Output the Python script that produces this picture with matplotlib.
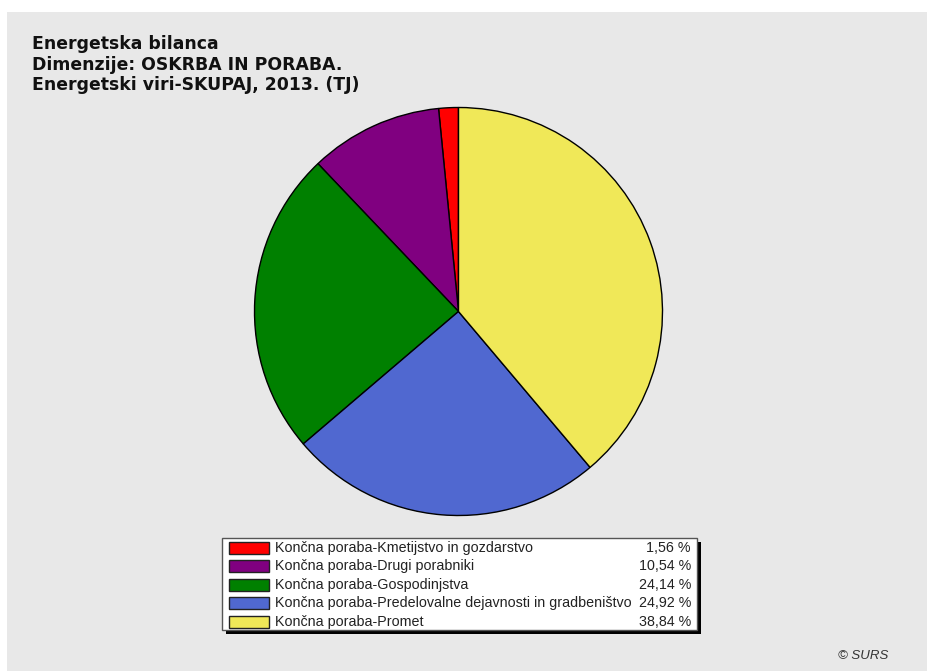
import matplotlib
matplotlib.use("Agg")
import matplotlib.pyplot as plt
from matplotlib.patches import Rectangle

categories = [
    "Končna poraba-Kmetijstvo in gozdarstvo",
    "Končna poraba-Drugi porabniki",
    "Končna poraba-Gospodinjstva",
    "Končna poraba-Predelovalne dejavnosti in gradbeništvo",
    "Končna poraba-Promet",
]
shares = [1.56, 10.54, 24.14, 24.92, 38.84]
colors = ["#ff0000", "#800080", "#008000", "#5068d0", "#f0e858"]
title_lines = [
    "Energetska bilanca",
    "Dimenzije: OSKRBA IN PORABA.",
    "Energetski viri-SKUPAJ, 2013. (TJ)",
]
credit = "© SURS"

plt.rcParams["font.family"] = ["Liberation Sans", "DejaVu Sans"]

W, H = 927, 671
fig = plt.figure(figsize=(W / 100, H / 100), dpi=100)
fig.patch.set_facecolor("white")

# overlay axes in pixel coordinates (y downward)
bg = fig.add_axes([0, 0, 1, 1])
bg.set_xlim(0, W)
bg.set_ylim(H, 0)
bg.axis("off")
bg.add_patch(Rectangle((7, 12), W - 7, H - 12, facecolor="#e8e8e8", edgecolor="none"))

# title
for i, line in enumerate(title_lines):
    bg.text(32, 49 + i * 20.5, line, fontsize=12.4, fontweight="bold",
            family=["DejaVu Sans"], color="#111111", ha="left", va="baseline")

# pie
cx, cy, r = 458.5, 311.5, 204
pax = fig.add_axes([(cx - r) / W, (H - cy - r) / H, 2 * r / W, 2 * r / H])
pax.pie(shares, colors=colors, startangle=90, counterclock=True,
        wedgeprops=dict(edgecolor="black", linewidth=1.0))
pax.set_xlim(-1, 1)
pax.set_ylim(-1, 1)
pax.set_aspect("equal")
pax.axis("off")

# legend box with shadow
lx0, ly0, lx1, ly1 = 222, 538, 697, 630
bg.add_patch(Rectangle((lx0 + 4, ly0 + 4), lx1 - lx0, ly1 - ly0,
                       facecolor="black", edgecolor="none", zorder=2))
bg.add_patch(Rectangle((lx0, ly0), lx1 - lx0, ly1 - ly0,
                       facecolor="white", edgecolor="#555555", linewidth=1.0, zorder=3))
row0 = 548
pitch = 18.4
for i, (cat, val, col) in enumerate(zip(categories, shares, colors)):
    yc = row0 + i * pitch
    bg.add_patch(Rectangle((229, yc - 6), 40, 12, facecolor=col,
                           edgecolor="#222222", linewidth=1.0, zorder=4))
    bg.text(275, yc, cat, fontsize=10.3, color="#222222", ha="left",
            va="center", zorder=5)
    bg.text(691, yc, f"{val:.2f}".replace(".", ",") + " %", fontsize=10.3,
            color="#222222", ha="right", va="center", zorder=5)

bg.text(888, 656, credit, fontsize=9.5, fontstyle="italic", color="#333333",
        ha="right", va="center")

fig.savefig("out.png", dpi=100)
